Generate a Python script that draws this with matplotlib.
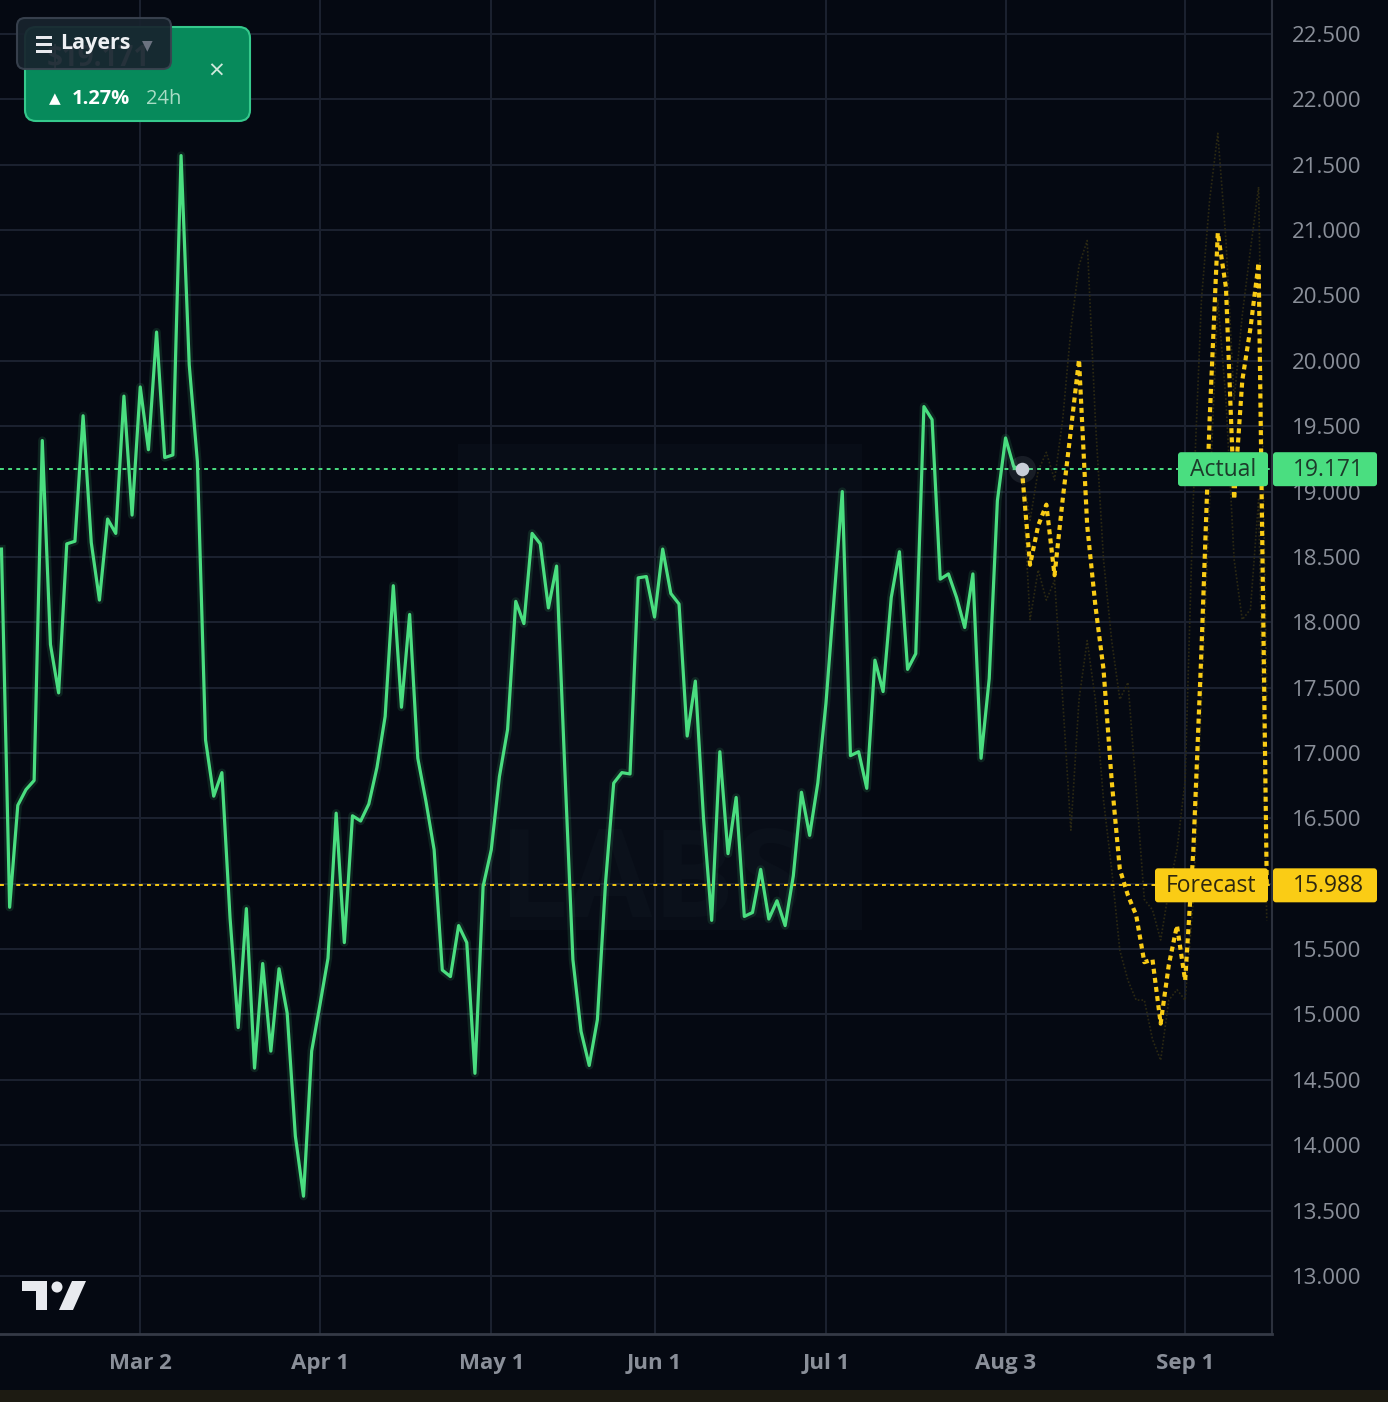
import numpy as np
import matplotlib
matplotlib.use('Agg')
import matplotlib.pyplot as plt
from matplotlib.patches import FancyBboxPatch, Rectangle, Circle, Polygon

plt.rcParams['font.family'] = ['Open Sans', 'DejaVu Sans']

# --- data (one point per trading bar) ---
actual = [18.56, 15.82, 16.60, 16.72, 16.79, 19.39, 17.83, 17.46, 18.60, 18.62,
          19.58, 18.61, 18.17, 18.79, 18.68, 19.73, 18.82, 19.80, 19.32, 20.22,
          19.26, 19.28, 21.57, 19.97, 19.23, 17.10, 16.67, 16.85, 15.74, 14.90,
          15.81, 14.59, 15.39, 14.72, 15.35, 15.01, 14.07, 13.61, 14.72, 15.07,
          15.43, 16.54, 15.55, 16.52, 16.48, 16.61, 16.89, 17.28, 18.28, 17.35,
          18.06, 16.96, 16.63, 16.26, 15.34, 15.29, 15.68, 15.55, 14.55, 15.98,
          16.26, 16.82, 17.18, 18.16, 17.99, 18.68, 18.60, 18.11, 18.43, 16.89,
          15.42, 14.87, 14.61, 14.96, 16.01, 16.77, 16.85, 16.84, 18.34, 18.35,
          18.04, 18.56, 18.22, 18.14, 17.13, 17.55, 16.50, 15.72, 17.01, 16.23,
          16.66, 15.75, 15.78, 16.11, 15.73, 15.87, 15.68, 16.06, 16.70, 16.37,
          16.77, 17.38, 18.19, 19.00, 16.98, 17.01, 16.73, 17.71, 17.47, 18.19,
          18.54, 17.64, 17.76, 19.65, 19.55, 18.33, 18.37, 18.19, 17.96, 18.37,
          16.96, 17.57, 18.93, 19.41, 19.19, 19.171]

forecast = [19.171, 18.44, 18.74, 18.90, 18.36, 18.94, 19.47, 20.01, 18.74, 18.13,
            17.64, 16.79, 16.11, 15.91, 15.76, 15.40, 15.42, 14.93, 15.38, 15.68,
            15.26, 16.25, 17.79, 19.55, 20.98, 20.56, 18.94, 19.85, 20.25, 20.75,
            15.988]

# faint scenario paths behind the forecast
upper = [19.171, 18.78, 19.16, 19.30, 19.09, 19.55, 20.24, 20.73, 20.92, 19.55,
         18.48, 17.86, 17.41, 17.54, 16.72, 15.88, 15.80, 15.57, 15.95, 16.26,
         16.79, 18.94, 20.47, 21.23, 21.74, 20.92, 19.70, 20.35, 20.85, 21.33, 17.41]
lower = [19.171, 18.02, 18.40, 18.17, 18.32, 17.41, 16.41, 17.41, 17.86, 17.41,
         16.64, 16.11, 15.49, 15.26, 15.11, 15.11, 14.81, 14.65, 15.11, 15.19,
         15.11, 15.88, 17.41, 18.94, 20.47, 19.70, 18.48, 18.02, 18.10, 18.94, 15.72]

tick_bars = [17, 39, 60, 80, 101, 123, 145]
tick_labels = ['Mar 2', 'Apr 1', 'May 1', 'Jun 1', 'Jul 1', 'Aug 3', 'Sep 1']
price_ticks = [13.0, 13.5, 14.0, 14.5, 15.0, 15.5, 16.0, 16.5, 17.0, 17.5,
               18.0, 18.5, 19.0, 19.5, 20.0, 20.5, 21.0, 21.5, 22.0, 22.5]

last_actual = 19.171
last_forecast = 15.988
change_24h = '1.27%'

# --- colours ---
BG = '#050912'
GRID = '#1c2230'
GREEN = '#4ade80'
YELLOW = '#facc15'
TICK = '#8a8f99'

W, H = 1388, 1402
fig = plt.figure(figsize=(W / 100, H / 100), dpi=100, facecolor=BG)
ax = fig.add_axes([0, 68 / H, 1272 / W, 1334 / H])
ax.set_facecolor('none')


def add_box(x0, y0, x1, y1, face, edge='none', lw=0, r=4, alpha=1.0, z=5):
    p = FancyBboxPatch((x0 / W, 1 - y1 / H), (x1 - x0) / W, (y1 - y0) / H,
                       boxstyle=f'round,pad=0,rounding_size={r / W}',
                       transform=fig.transFigure, facecolor=face, edgecolor=edge,
                       linewidth=lw, alpha=alpha, zorder=z)
    fig.add_artist(p)


def add_text(x, y, s, **kw):
    return fig.text(x / W, 1 - y / H, s, **kw)


# faint watermark behind the chart
fig.add_artist(Rectangle((458 / W, 1 - 930 / H), 404 / W, 486 / H, transform=fig.transFigure,
                         facecolor='#080d17', edgecolor='none', zorder=-1))
add_text(650, 885, 'LABS', ha='center', va='center', fontsize=88, fontweight='bold',
         color='#0b111b', zorder=-0.5)

# series
x_act = np.arange(len(actual))
x_fc = np.arange(len(forecast)) + len(actual) - 1

ax.plot(x_act, actual, color=GREEN, lw=6, alpha=0.12, zorder=3)
ax.plot(x_act, actual, color=GREEN, lw=2.3, zorder=4)

ax.plot(x_fc, upper, color='#2c2912', lw=1.2, ls=(0, (1, 1.2)), zorder=2)
ax.plot(x_fc, lower, color='#2c2912', lw=1.2, ls=(0, (1, 1.2)), zorder=2)
ax.plot(x_fc, forecast, color=YELLOW, lw=3.0, ls=(0, (1.2, 1.0)),
        dash_capstyle='butt', zorder=5)

ax.axhline(last_actual, color=GREEN, lw=1.4, ls=(0, (2, 2.2)), zorder=3)
ax.axhline(last_forecast, color=YELLOW, lw=1.4, ls=(0, (2, 2.2)), zorder=3)

ax.scatter([x_act[-1]], [last_actual], s=380, color='#c9ced8', alpha=0.10, lw=0, zorder=6)
ax.scatter([x_act[-1]], [last_actual], s=95, color='#c9ced8', lw=0, zorder=7)

# axes
ax.set_xlim(-0.18, 155.64)
ax.set_ylim(12.556, 22.760)
ax.set_axisbelow(True)
ax.grid(True, color=GRID, lw=1.4)

ax.set_xticks(tick_bars)
ax.set_xticklabels(tick_labels)
ax.yaxis.tick_right()
ax.set_yticks(price_ticks)
ax.set_yticklabels([f'{v:.3f}' for v in price_ticks])
ax.tick_params(axis='y', length=0, pad=14.5, labelsize=16, labelcolor=TICK)
ax.tick_params(axis='x', length=0, pad=14, labelsize=16, labelcolor=TICK)
for lab in ax.get_xticklabels():
    lab.set_fontweight('bold')

for side in ['top', 'left']:
    ax.spines[side].set_visible(False)
ax.spines['right'].set_color('#2c313d')
ax.spines['right'].set_linewidth(1.5)
ax.spines['bottom'].set_color('#353a46')
ax.spines['bottom'].set_linewidth(2)


# price tags on the right scale
def price_tag(value, name, color, text_color, x_name0):
    yc = H - ax.transData.transform((0, value))[1]
    add_box(x_name0, yc - 17, 1268, yc + 17, color, r=3)
    add_box(1273, yc - 17, 1377, yc + 17, color, r=3)
    add_text((x_name0 + 1268) / 2, yc + 1, name, ha='center', va='center',
             fontsize=16.5, color=text_color, zorder=6)
    add_text(1328, yc + 1, f'{value:.3f}', ha='center', va='center',
             fontsize=16.5, color=text_color, zorder=6)


price_tag(last_actual, 'Actual', GREEN, '#1c3a2a', 1178)
price_tag(last_forecast, 'Forecast', YELLOW, '#2d2710', 1155)

# info card (top-left)
add_box(25, 27, 250, 121, '#078a5b', edge='#35c98c', lw=1.5, r=11, z=8)
add_text(47, 58, '$19.171', ha='left', va='center', fontsize=20, fontweight='bold',
         color='#d7efe3', zorder=8)
add_text(216, 73, '\u00d7', ha='center', va='center', fontsize=20, color='#cfe9dc', zorder=9)
add_text(49, 99, '\u25b2', ha='left', va='center', fontsize=11, color='white', zorder=9,
         family='DejaVu Sans')
add_text(72, 99, change_24h, ha='left', va='center', fontsize=14.5, fontweight='bold',
         color='white', zorder=9)
add_text(146, 99, '24h', ha='left', va='center', fontsize=14.5, color='#a9dcc5', zorder=9)

add_box(17, 18, 171, 69, '#18232e', edge='#3a4350', lw=1.5, r=8, alpha=0.93, z=10)
for yy in (37, 44, 51):
    fig.add_artist(Rectangle((36 / W, 1 - (yy + 1.5) / H), 16 / W, 3 / H,
                             transform=fig.transFigure, facecolor='#e8eaee', zorder=11))
add_text(60, 44, 'Layers', ha='left', va='center', fontsize=15.5, fontweight='bold',
         color='#eef0f3', zorder=11)
add_text(147, 45, '\u25bc', ha='center', va='center', fontsize=10, color='#6b7280', zorder=11,
         family='DejaVu Sans')

# TradingView mark (bottom-left)
LOGO = '#e8eaef'
fig.add_artist(Polygon([(22 / W, 1 - 1281 / H), (47 / W, 1 - 1281 / H), (47 / W, 1 - 1310 / H),
                        (36 / W, 1 - 1310 / H), (36 / W, 1 - 1291 / H), (22 / W, 1 - 1291 / H)],
                       closed=True, transform=fig.transFigure, facecolor=LOGO, zorder=8))
fig.add_artist(Circle((57 / W, 1 - 1287 / H), 5.5 / W, transform=fig.transFigure,
                      facecolor=LOGO, zorder=8))
fig.add_artist(Polygon([(72 / W, 1 - 1281 / H), (86 / W, 1 - 1281 / H), (73 / W, 1 - 1310 / H),
                        (59 / W, 1 - 1310 / H)],
                       closed=True, transform=fig.transFigure, facecolor=LOGO, zorder=8))

# bottom strip
fig.add_artist(Rectangle((0, 0), 1, 12 / H, transform=fig.transFigure,
                         facecolor='#1d1b12', edgecolor='none', zorder=1))

fig.savefig('out.png', dpi=100, facecolor=BG)
